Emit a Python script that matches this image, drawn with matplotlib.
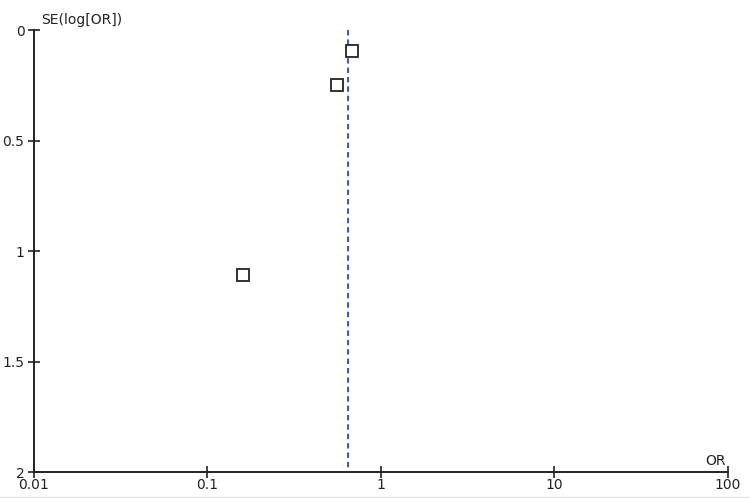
import matplotlib
matplotlib.use("Agg")
import matplotlib.pyplot as plt
from matplotlib.lines import Line2D

# study estimates
odds_ratio = [0.682, 0.560, 0.162]
se_log_or = [0.095, 0.249, 1.108]
pooled_or = 0.647

x_ticks = [0.01, 0.1, 1, 10, 100]
x_tick_labels = ["0.01", "0.1", "1", "10", "100"]
y_ticks = [0, 0.5, 1, 1.5, 2]
y_tick_labels = ["0", "0.5", "1", "1.5", "2"]

plt.rcParams["font.family"] = ["DejaVu Sans"]

W, H = 750, 498
fig = plt.figure(figsize=(W / 100, H / 100), dpi=100)
left, right, top, bottom = 33.5, 727.7, 30.0, 472.3
ax = fig.add_axes([left / W, 1 - bottom / H, (right - left) / W, (bottom - top) / H])

ax.set_xscale("log")
ax.set_xlim(0.01, 100)
ax.set_ylim(2, 0)

# pooled estimate
ax.plot([pooled_or, pooled_or], [0, 1.98], color="#3a3ad8", lw=1.3,
        linestyle=(0, (3, 2.2)), zorder=2)
# studies
ax.plot(odds_ratio, se_log_or, linestyle="none", marker="s", markersize=8.3,
        markerfacecolor="white", markeredgecolor="#222222", markeredgewidth=1.3,
        zorder=3)

for side in ("top", "right"):
    ax.spines[side].set_visible(False)
for side in ("left", "bottom"):
    ax.spines[side].set_linewidth(1.4)
    ax.spines[side].set_color("#222222")

ax.set_xticks(x_ticks)
ax.set_xticklabels(x_tick_labels)
ax.xaxis.set_minor_locator(matplotlib.ticker.NullLocator())
ax.set_yticks(y_ticks)
ax.set_yticklabels(y_tick_labels)
ax.tick_params(axis="both", direction="inout", length=9, width=1.2,
               color="#222222", labelsize=10, labelcolor="#222222")
ax.tick_params(axis="x", pad=-0.5)
ax.tick_params(axis="y", pad=2)

ax.text(41 / W, 1 - 20 / H, "SE(log[OR])", transform=fig.transFigure,
        fontsize=10, color="#222222", ha="left", va="center")
ax.text(715.5 / W, 1 - 461 / H, "OR", transform=fig.transFigure,
        fontsize=10, color="#222222", ha="center", va="center")

fig.add_artist(Line2D([0, 1], [1 - 496.5 / H, 1 - 496.5 / H],
                      transform=fig.transFigure, color="#e4e4e4", lw=1))

fig.savefig("out.png", dpi=100)
